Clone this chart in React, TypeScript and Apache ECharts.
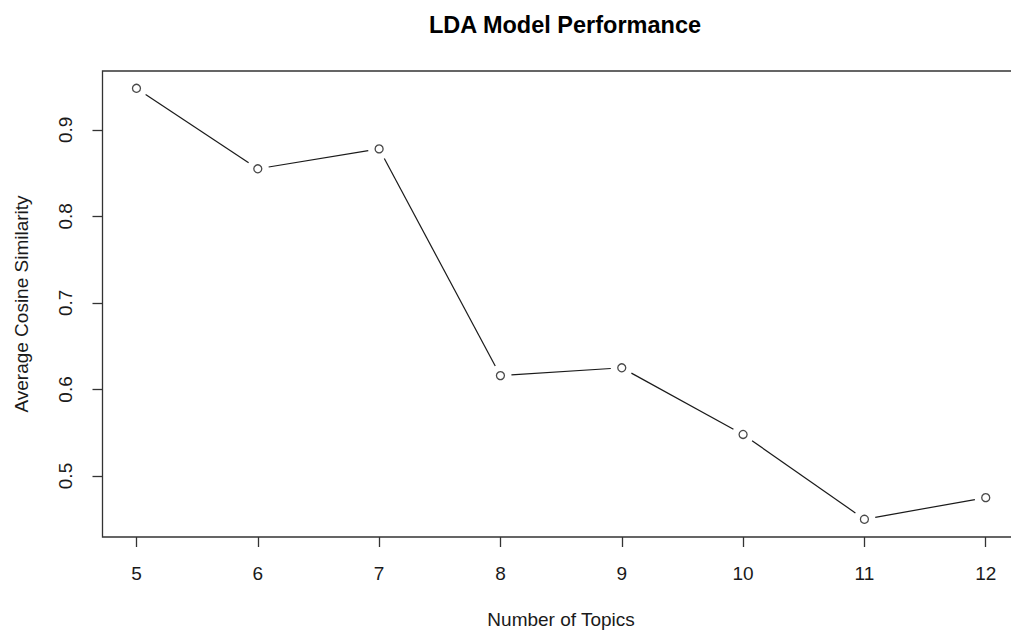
import React, { useEffect, useRef } from "react";
import * as echarts from "echarts";

// Number of LDA topics tried and the mean cosine similarity for each
const topics = [5, 6, 7, 8, 9, 10, 11, 12];
const similarity = [0.948, 0.855, 0.878, 0.616, 0.625, 0.548, 0.45, 0.475];
const yTicks = [0.5, 0.6, 0.7, 0.8, 0.9];

const FONT = "'Liberation Sans', Arial, Helvetica, sans-serif";
const INK = "#1a1a1a";
const GAP = 11; // space left around each point, like a type="b" plot

export default function App() {
  const ref = useRef<HTMLDivElement>(null);

  useEffect(() => {
    if (!ref.current) return;
    const chart = echarts.init(ref.current, undefined, { renderer: "svg" });

    const points = topics.map((t, i) => [t, similarity[i]]);

    chart.setOption({
      animation: false,
      backgroundColor: "#ffffff",
      title: {
        text: "LDA Model Performance",
        left: 560,
        top: 8,
        textAlign: "center",
        textStyle: { fontFamily: FONT, fontSize: 23.5, fontWeight: "bold", color: "#000" },
      },
      grid: {
        left: 102.5,
        right: -8.7,
        top: 71,
        bottom: 94,
        outerBoundsMode: "none",
        containLabel: false,
        show: true,
        borderColor: "#333",
        borderWidth: 1.3,
        backgroundColor: "transparent",
      },
      xAxis: {
        type: "value",
        min: 4.72,
        max: 12.28,
        name: "Number of Topics",
        nameLocation: "middle",
        nameGap: 73,
        nameTextStyle: { fontFamily: FONT, fontSize: 19, color: INK },
        axisLine: { show: false },
        splitLine: { show: false },
        axisTick: {
          show: true,
          inside: false,
          length: 10,
          customValues: topics,
          lineStyle: { color: "#333", width: 1.3 },
        },
        axisLabel: {
          customValues: topics,
          margin: 27,
          fontFamily: FONT,
          fontSize: 19,
          color: INK,
        },
      },
      yAxis: {
        type: "value",
        min: 0.4295,
        max: 0.968,
        name: "Average Cosine Similarity",
        nameLocation: "middle",
        nameGap: 72,
        nameRotate: 90,
        nameTextStyle: { fontFamily: FONT, fontSize: 19, color: INK },
        axisLine: { show: false },
        splitLine: { show: false },
        axisTick: {
          show: true,
          inside: false,
          length: 10,
          customValues: yTicks,
          lineStyle: { color: "#333", width: 1.3 },
        },
        axisLabel: {
          customValues: yTicks,
          rotate: 90,
          margin: 28,
          fontFamily: FONT,
          fontSize: 19,
          color: INK,
          formatter: (v: number) => v.toFixed(1),
        },
      },
      series: [
        {
          // connecting segments, trimmed short of each point
          type: "custom",
          data: points.slice(0, -1),
          silent: true,
          renderItem: (params: any, api: any) => {
            const i = params.dataIndex;
            const a = api.coord([topics[i], similarity[i]]);
            const b = api.coord([topics[i + 1], similarity[i + 1]]);
            const dx = b[0] - a[0];
            const dy = b[1] - a[1];
            const len = Math.sqrt(dx * dx + dy * dy);
            const ux = dx / len;
            const uy = dy / len;
            return {
              type: "line",
              shape: {
                x1: a[0] + ux * GAP,
                y1: a[1] + uy * GAP,
                x2: b[0] - ux * GAP,
                y2: b[1] - uy * GAP,
              },
              style: { stroke: INK, lineWidth: 1.2 },
            };
          },
        },
        {
          type: "scatter",
          data: points,
          symbol: "circle",
          symbolSize: 8,
          silent: true,
          itemStyle: { color: "#ffffff", borderColor: INK, borderWidth: 1.3 },
        },
      ],
    });

    return () => chart.dispose();
  }, []);

  return (
    <div
      ref={ref}
      style={{ position: "fixed", left: 0, top: 0, width: 1011, height: 631, background: "#fff" }}
    />
  );
}
